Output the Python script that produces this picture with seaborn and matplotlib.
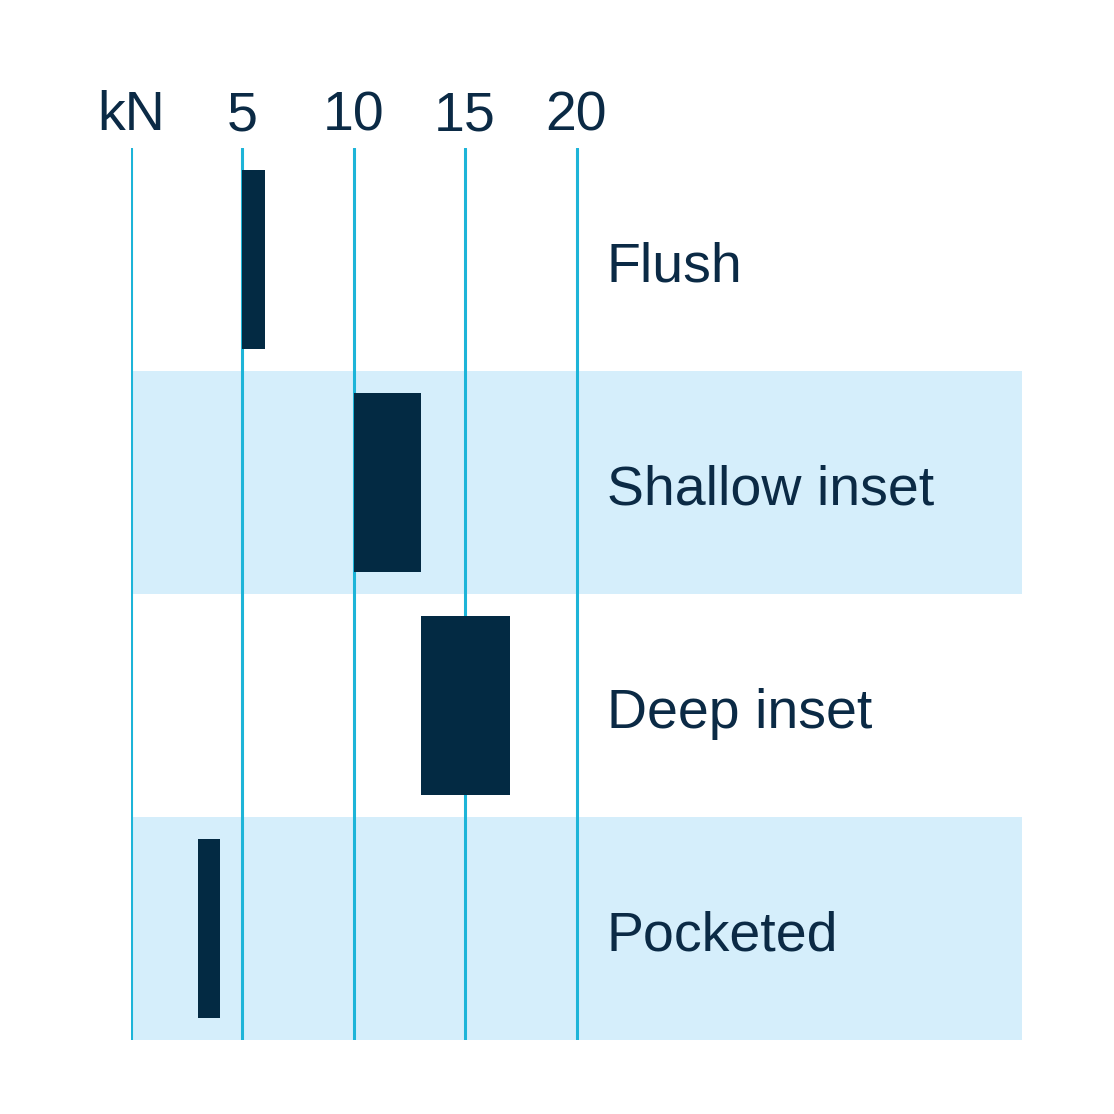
import pandas as pd
import matplotlib.pyplot as plt
import seaborn as sns

# load range (kN) per fitting type
categories = ["Flush", "Shallow inset", "Deep inset", "Pocketed"]
load_min = [5, 10, 13, 3]
load_max = [6, 13, 17, 4]
tick_values = [0, 5, 10, 15, 20]
tick_labels = ["kN", "5", "10", "15", "20"]

navy = "#032A43"
cyan = "#1DB4D8"
band = "#D5EEFB"
text_col = "#0B2A45"

def main():
    sns.set_theme(style="white")
    plt.rcParams['font.family'] = ['Liberation Sans', 'DejaVu Sans']

    df = pd.DataFrame({"type": categories, "lo": load_min, "hi": load_max})
    df["span"] = df["hi"] - df["lo"]

    fig = plt.figure(figsize=(11.14, 11.14), dpi=100)
    ax = fig.add_axes([131 / 1114, 1 - 1040 / 1114, 891 / 1114, 892 / 1114])

    # shaded bands behind every second row
    for i in range(len(categories)):
        if i % 2 == 1:
            ax.axhspan(i - 0.5, i + 0.5, color=band, lw=0, zorder=0)

    for v in tick_values:
        ax.axvline(v, color=cyan, lw=2.2, zorder=1)

    sns.barplot(data=df, x="span", y="type", left=df["lo"], color=navy,
                saturation=1, width=0.8, ax=ax, zorder=2, linewidth=0)

    for i, name in enumerate(categories):
        ax.text(21.35, i + 0.1, name, va="baseline", ha="left",
                fontsize=40, color=text_col)

    ax.set_xlim(0, 40)
    ax.set_ylim(3.5, -0.5)
    ax.xaxis.tick_top()
    ax.set_xticks(tick_values)
    ax.set_xticklabels(tick_labels, fontsize=40, color=text_col)
    ax.tick_params(axis="x", length=0, pad=4)
    ax.set_yticks([])
    ax.set_xlabel("")
    ax.set_ylabel("")
    for s in ax.spines.values():
        s.set_visible(False)
    ax.patch.set_alpha(0)

    fig.savefig("out.png", dpi=100, facecolor="white")

if __name__ == "__main__":
    main()
